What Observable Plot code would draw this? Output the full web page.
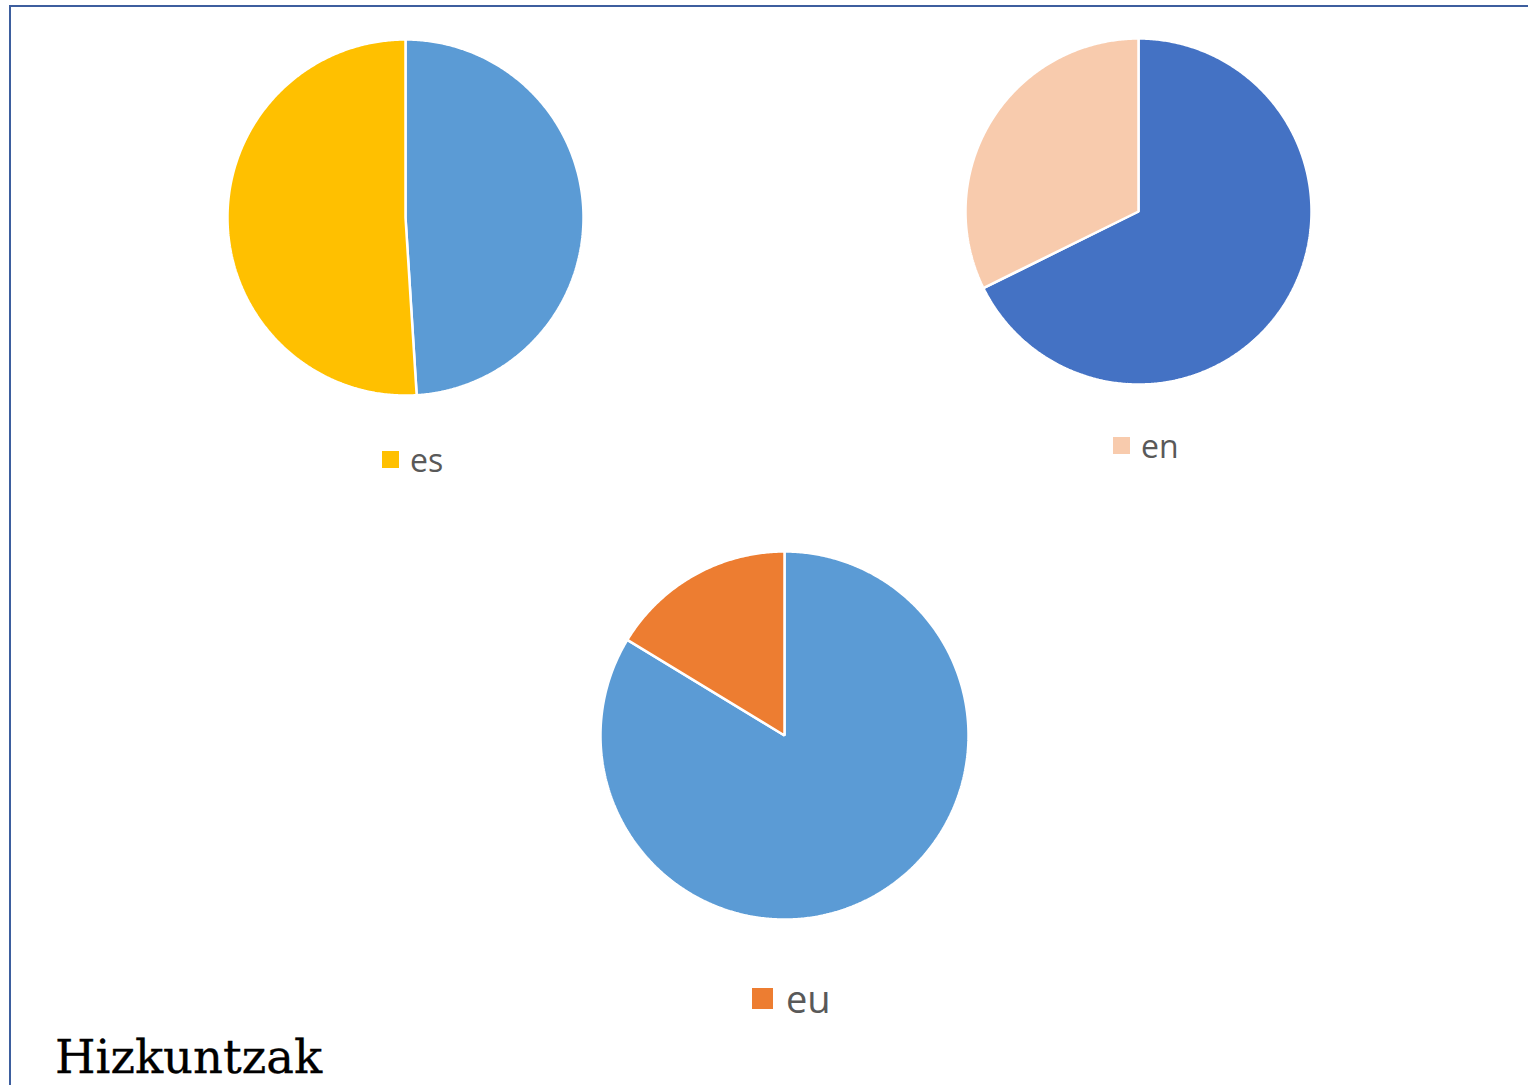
<!DOCTYPE html>
<html>
<head>
<meta charset="utf-8">
<script src="https://cdn.jsdelivr.net/npm/d3@7"></script>
<script src="https://cdn.jsdelivr.net/npm/@observablehq/plot@0.6"></script>
<style>
  html, body { margin: 0; padding: 0; background: #fff; }
  #page { position: relative; width: 1528px; height: 1085px; overflow: hidden; background: #fff; }
  #frame { position: absolute; left: 9px; top: 5px; width: 1530px; height: 1100px;
           border-top: 2.5px solid #3D5E9E; border-left: 2.5px solid #3D5E9E; box-sizing: border-box; }
  .pie, .leg { position: absolute; }
  .leg svg { margin-right: 11px !important; }
  .leg.big svg { margin-right: 13px !important; }
  #title { position: absolute; left: 55px; top: 1034px; font-family: "DejaVu Serif", serif;
           font-size: 46.5px; line-height: 1; color: #000; white-space: nowrap;
           -webkit-text-stroke: 0.3px #000; }
</style>
</head>
<body>
<div id="page">
  <div id="frame"></div>
  <div id="title">Hizkuntzak</div>
</div>
<script>
// ---- data ----
const languages = ["es", "en", "eu"];
const shares = [51.0, 32.3, 16.3];          // highlighted language share (%)
const restShares = [49.0, 67.7, 83.7];      // remaining share (%)
const restLabel = "other";
const langColors = ["#FFC000", "#F8CBAD", "#ED7D31"];
const restColors = ["#5B9BD5", "#4472C4", "#5B9BD5"];

// ---- layout (pixels) ----
const layout = [
  {cx: 405, cy: 217, r: 178, legX: 382, legY: 438, sw: 17, fs: 32, big: false},
  {cx: 1138, cy: 211, r: 173, legX: 1113, legY: 424, sw: 17, fs: 32, big: false},
  {cx: 784, cy: 735, r: 184, legX: 752, legY: 972, sw: 21, fs: 38, big: true}
];

const page = document.getElementById("page");

languages.forEach((lang, i) => {
  const L = layout[i];
  const values = [{label: restLabel, value: restShares[i]}, {label: lang, value: shares[i]}];
  const total = d3.sum(values, d => d.value);
  // build slice outlines (clockwise from 12 o'clock)
  const pts = [];
  let acc = 0;
  values.forEach(d => {
    const a0 = acc / total * 2 * Math.PI;
    acc += d.value;
    const a1 = acc / total * 2 * Math.PI;
    const n = Math.max(2, Math.ceil((a1 - a0) / (Math.PI / 360)));
    pts.push({label: d.label, x: 0, y: 0});
    for (let k = 0; k <= n; k++) {
      const a = a0 + (a1 - a0) * k / n;
      pts.push({label: d.label, x: Math.sin(a), y: Math.cos(a)});
    }
  });
  const pad = 4;
  const size = 2 * L.r + 2 * pad;
  const chart = Plot.plot({
    width: size, height: size,
    margin: pad,
    x: {domain: [-1, 1], axis: null},
    y: {domain: [-1, 1], axis: null},
    color: {domain: [restLabel, lang], range: [restColors[i], langColors[i]]},
    marks: [
      Plot.line(pts, {x: "x", y: "y", z: "label", fill: "label", stroke: "white",
                      strokeWidth: 2.5, curve: "linear-closed", strokeLinejoin: "miter"})
    ]
  });
  chart.classList.add("pie");
  chart.style.left = (L.cx - L.r - pad) + "px";
  chart.style.top = (L.cy - L.r - pad) + "px";
  page.appendChild(chart);

  const legend = Plot.legend({
    color: {domain: [lang], range: [langColors[i]]},
    legend: "swatches",
    swatchSize: L.sw,
    style: {fontFamily: "'Open Sans', sans-serif", fontSize: L.fs + "px", color: "#595959", margin: "0"}
  });
  const wrap = document.createElement("div");
  wrap.className = "leg" + (L.big ? " big" : "");
  wrap.style.left = L.legX + "px";
  wrap.style.top = L.legY + "px";
  wrap.appendChild(legend);
  page.appendChild(wrap);
});
</script>
</body>
</html>
